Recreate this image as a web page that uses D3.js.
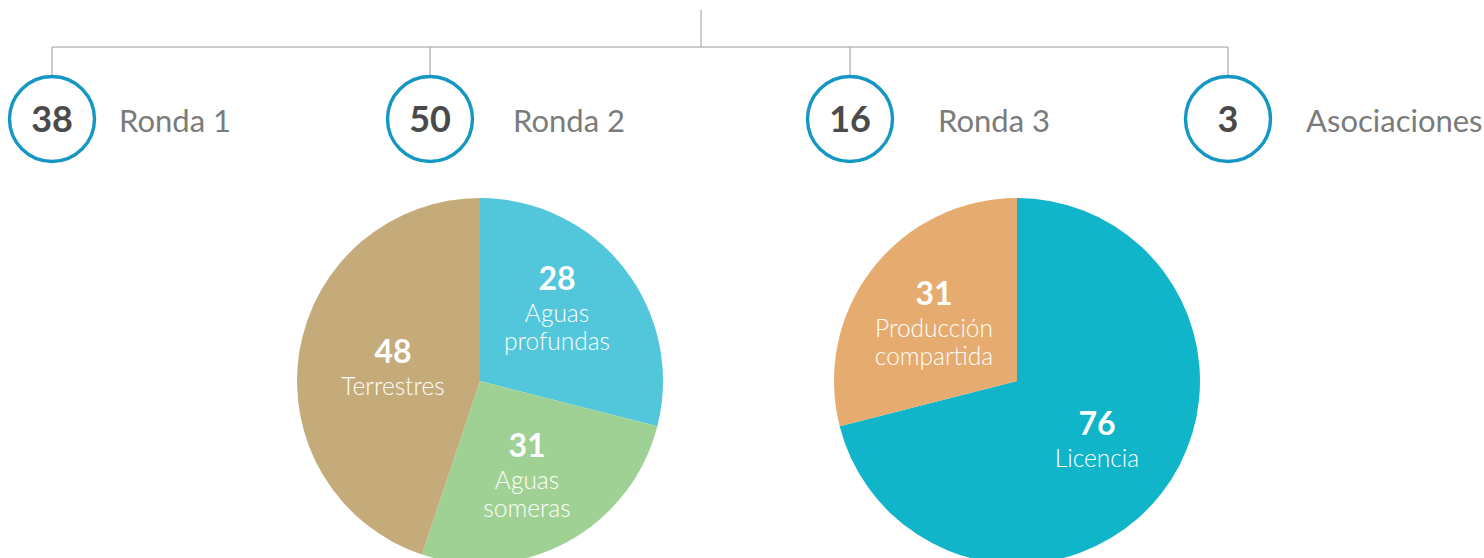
<!DOCTYPE html>
<html>
<head>
<meta charset="utf-8">
<script src="https://cdn.jsdelivr.net/npm/d3@7"></script>
<style>
  body { margin: 0; background: #fff; }
  text { font-family: Lato, "Open Sans", sans-serif; }
</style>
</head>
<body>
<div id="chart"></div>
<script>
// Top row: counts per round
const rounds = ["Ronda 1", "Ronda 2", "Ronda 3", "Asociaciones"];
const roundCounts = [38, 50, 16, 3];

// Pie 1: by location (labels as printed; slice sizes as drawn in the source)
const locLabels = [["Aguas", "profundas"], ["Aguas", "someras"], ["Terrestres"]];
const locCounts = [28, 31, 48];
const locSlices = [31, 28, 48];

// Pie 2: by contract type
const typeLabels = [["Licencia"], ["Producción", "compartida"]];
const typeCounts = [76, 31];

const width = 1484;
const height = 558;

const svg = d3.select("#chart")
    .append("svg")
    .attr("width", width)
    .attr("height", height);

// Layout of the tree (spacing in the source is uneven)
const roundX = [52, 430, 850, 1228];
const labelOffset = [67, 83, 88, 78];
const treeY = 47;
const circleY = 119;
const circleR = 42.5;

// Tree connectors
svg.append("line")
    .attr("x1", 701).attr("x2", 701)
    .attr("y1", 10).attr("y2", treeY)
    .attr("stroke", "#9a9a9a").attr("stroke-width", 1);

svg.append("line")
    .attr("x1", d3.min(roundX)).attr("x2", d3.max(roundX))
    .attr("y1", treeY).attr("y2", treeY)
    .attr("stroke", "#9a9a9a").attr("stroke-width", 1);

const g = svg.selectAll(".round")
    .data(rounds)
    .enter()
    .append("g")
    .attr("class", "round")
    .attr("transform", (d, i) => `translate(${roundX[i]}, 0)`);

g.append("line")
    .attr("x1", 0).attr("x2", 0)
    .attr("y1", treeY).attr("y2", circleY - circleR)
    .attr("stroke", "#9a9a9a").attr("stroke-width", 1);

g.append("circle")
    .attr("cx", 0)
    .attr("cy", circleY)
    .attr("r", circleR)
    .attr("fill", "#fff")
    .attr("stroke", "#1597c4")
    .attr("stroke-width", 3.4);

g.append("text")
    .attr("x", 0)
    .attr("y", circleY + 13)
    .attr("text-anchor", "middle")
    .style("font-size", "36px")
    .style("font-weight", "bold")
    .style("fill", "#4a4a4a")
    .text((d, i) => roundCounts[i]);

g.append("text")
    .attr("x", (d, i) => labelOffset[i])
    .attr("y", circleY + 13)
    .style("font-size", "31px")
    .style("fill", "#7b7b7b")
    .text(d => d);

// Pies
const radius = 183;
const arc = d3.arc().innerRadius(0).outerRadius(radius);
const pie = d3.pie().sort(null).value(d => d);

function drawPie(cx, cy, values, colors, counts, labels, labelPos) {
    const pg = svg.append("g").attr("transform", `translate(${cx}, ${cy})`);
    pg.selectAll("path")
        .data(pie(values))
        .enter()
        .append("path")
        .attr("d", arc)
        .attr("fill", (d, i) => colors[i]);

    counts.forEach((c, i) => {
        const [lx, ly] = labelPos[i];
        pg.append("text")
            .attr("x", lx)
            .attr("y", ly)
            .attr("text-anchor", "middle")
            .style("font-size", "32px")
            .style("font-weight", "bold")
            .style("fill", "#fff")
            .text(c);
        labels[i].forEach((line, j) => {
            pg.append("text")
                .attr("x", lx)
                .attr("y", ly + 32 + j * 28)
                .attr("text-anchor", "middle")
                .style("font-size", "24.5px")
                .style("font-weight", 300)
                .style("fill", "#fff")
                .text(line);
        });
    });
}

drawPie(480, 381, locSlices, ["#52c6da", "#a0d194", "#c5aa7a"],
    locCounts, locLabels, [[77, -91], [47, 76], [-87, -18]]);

drawPie(1017, 381, typeCounts, ["#10b5c9", "#e5ab6f"],
    typeCounts, typeLabels, [[80, 54], [-83, -76]]);
</script>
</body>
</html>
